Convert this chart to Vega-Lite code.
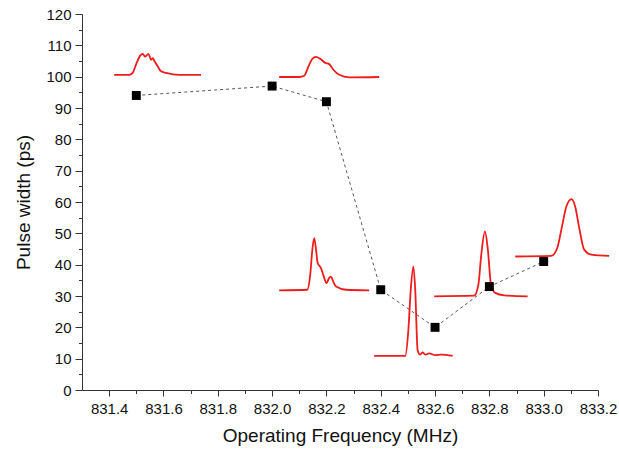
{
  "$schema": "https://vega.github.io/schema/vega-lite/v6.json",
  "width": 516,
  "height": 376,
  "autosize": {"type": "none"},
  "padding": {"left": 82, "top": 14, "right": 21, "bottom": 64},
  "background": "white",
  "config": {
    "view": {"stroke": null},
    "font": "Liberation Sans",
    "axis": {"grid": false, "domainColor": "#333", "tickColor": "#333", "labelColor": "#111", "titleColor": "#111", "labelFont": "Liberation Sans", "titleFont": "Liberation Sans", "labelFontSize": 15, "titleFontSize": 19, "titleFontWeight": "normal", "labelOverlap": false, "labelFlush": false, "labelBound": false}
  },
  "datasets": {
    "points": [
      {"f": 831.5, "w": 94},
      {"f": 832.0, "w": 97},
      {"f": 832.2, "w": 92},
      {"f": 832.4, "w": 32},
      {"f": 832.6, "w": 20},
      {"f": 832.8, "w": 33},
      {"f": 833.0, "w": 41}
    ],
    "traces": [
      {"trace": "A", "i": 1, "f": 831.4185, "w": 100.6},
      {"trace": "A", "i": 2, "f": 831.4738, "w": 100.6},
      {"trace": "A", "i": 3, "f": 831.4864, "w": 101.2},
      {"trace": "A", "i": 4, "f": 831.4999, "w": 104.1},
      {"trace": "A", "i": 5, "f": 831.5145, "w": 106.7},
      {"trace": "A", "i": 6, "f": 831.5232, "w": 107.3},
      {"trace": "A", "i": 7, "f": 831.5329, "w": 106.4},
      {"trace": "A", "i": 8, "f": 831.5445, "w": 107.3},
      {"trace": "A", "i": 9, "f": 831.5542, "w": 105.4},
      {"trace": "A", "i": 10, "f": 831.5610, "w": 105.9},
      {"trace": "A", "i": 11, "f": 831.5658, "w": 105.1},
      {"trace": "A", "i": 12, "f": 831.5774, "w": 103.5},
      {"trace": "A", "i": 13, "f": 831.5910, "w": 101.7},
      {"trace": "A", "i": 14, "f": 831.6094, "w": 101.2},
      {"trace": "A", "i": 15, "f": 831.6579, "w": 100.6},
      {"trace": "A", "i": 16, "f": 831.7383, "w": 100.6},
      {"trace": "B", "i": 1, "f": 832.0260, "w": 99.9},
      {"trace": "B", "i": 2, "f": 832.0997, "w": 99.9},
      {"trace": "B", "i": 3, "f": 832.1181, "w": 100.3},
      {"trace": "B", "i": 4, "f": 832.1336, "w": 103.2},
      {"trace": "B", "i": 5, "f": 832.1482, "w": 105.7},
      {"trace": "B", "i": 6, "f": 832.1617, "w": 106.3},
      {"trace": "B", "i": 7, "f": 832.1772, "w": 105.7},
      {"trace": "B", "i": 8, "f": 832.1956, "w": 104.4},
      {"trace": "B", "i": 9, "f": 832.2102, "w": 104.0},
      {"trace": "B", "i": 10, "f": 832.2257, "w": 102.2},
      {"trace": "B", "i": 11, "f": 832.2470, "w": 100.6},
      {"trace": "B", "i": 12, "f": 832.2838, "w": 99.8},
      {"trace": "B", "i": 13, "f": 832.3943, "w": 99.9},
      {"trace": "C", "i": 1, "f": 832.0260, "w": 31.8},
      {"trace": "C", "i": 2, "f": 832.1297, "w": 32.0},
      {"trace": "C", "i": 3, "f": 832.1404, "w": 36.8},
      {"trace": "C", "i": 4, "f": 832.1482, "w": 44.8},
      {"trace": "C", "i": 5, "f": 832.1549, "w": 48.5},
      {"trace": "C", "i": 6, "f": 832.1627, "w": 44.1},
      {"trace": "C", "i": 7, "f": 832.1675, "w": 40.6},
      {"trace": "C", "i": 8, "f": 832.1801, "w": 38.9},
      {"trace": "C", "i": 9, "f": 832.1918, "w": 35.8},
      {"trace": "C", "i": 10, "f": 832.2005, "w": 34.1},
      {"trace": "C", "i": 11, "f": 832.2102, "w": 35.8},
      {"trace": "C", "i": 12, "f": 832.2169, "w": 36.2},
      {"trace": "C", "i": 13, "f": 832.2257, "w": 34.5},
      {"trace": "C", "i": 14, "f": 832.2353, "w": 33.0},
      {"trace": "C", "i": 15, "f": 832.2722, "w": 32.0},
      {"trace": "C", "i": 16, "f": 832.3574, "w": 31.8},
      {"trace": "D", "i": 1, "f": 832.3758, "w": 10.9},
      {"trace": "D", "i": 2, "f": 832.4902, "w": 10.9},
      {"trace": "D", "i": 3, "f": 832.5018, "w": 19.2},
      {"trace": "D", "i": 4, "f": 832.5105, "w": 32.0},
      {"trace": "D", "i": 5, "f": 832.5202, "w": 39.4},
      {"trace": "D", "i": 6, "f": 832.5270, "w": 32.0},
      {"trace": "D", "i": 7, "f": 832.5357, "w": 12.8},
      {"trace": "D", "i": 8, "f": 832.5454, "w": 11.3},
      {"trace": "D", "i": 9, "f": 832.5541, "w": 12.0},
      {"trace": "D", "i": 10, "f": 832.5638, "w": 11.3},
      {"trace": "D", "i": 11, "f": 832.5784, "w": 11.7},
      {"trace": "D", "i": 12, "f": 832.6006, "w": 11.1},
      {"trace": "D", "i": 13, "f": 832.6229, "w": 11.3},
      {"trace": "D", "i": 14, "f": 832.6646, "w": 10.9},
      {"trace": "E", "i": 1, "f": 832.5968, "w": 29.9},
      {"trace": "E", "i": 2, "f": 832.7440, "w": 30.1},
      {"trace": "E", "i": 3, "f": 832.7595, "w": 33.6},
      {"trace": "E", "i": 4, "f": 832.7702, "w": 43.2},
      {"trace": "E", "i": 5, "f": 832.7838, "w": 50.6},
      {"trace": "E", "i": 6, "f": 832.7944, "w": 44.8},
      {"trace": "E", "i": 7, "f": 832.8061, "w": 33.6},
      {"trace": "E", "i": 8, "f": 832.8216, "w": 31.0},
      {"trace": "E", "i": 9, "f": 832.8545, "w": 30.2},
      {"trace": "E", "i": 10, "f": 832.9407, "w": 29.9},
      {"trace": "F", "i": 1, "f": 832.8952, "w": 42.6},
      {"trace": "F", "i": 2, "f": 833.0279, "w": 42.8},
      {"trace": "F", "i": 3, "f": 833.0502, "w": 45.4},
      {"trace": "F", "i": 4, "f": 833.0686, "w": 52.7},
      {"trace": "F", "i": 5, "f": 833.0832, "w": 58.5},
      {"trace": "F", "i": 6, "f": 833.1026, "w": 60.9},
      {"trace": "F", "i": 7, "f": 833.1161, "w": 58.5},
      {"trace": "F", "i": 8, "f": 833.1307, "w": 51.8},
      {"trace": "F", "i": 9, "f": 833.1491, "w": 44.8},
      {"trace": "F", "i": 10, "f": 833.1752, "w": 43.2},
      {"trace": "F", "i": 11, "f": 833.2411, "w": 42.8}
    ]
  },
  "layer": [
    {
      "data": {"name": "traces"},
      "mark": {"type": "line", "color": "#ee1c1c", "strokeWidth": 1.8, "interpolate": "monotone"},
      "encoding": {
        "x": {"field": "f", "type": "quantitative", "scale": {"domain": [831.3, 833.2], "nice": false, "zero": false},
          "axis": {"values": [831.4, 831.6, 831.8, 832.0, 832.2, 832.4, 832.6, 832.8, 833.0, 833.2], "format": ".1f", "title": "Operating Frequency (MHz)", "tickSize": 6, "labelPadding": 5, "titlePadding": 10, "orient": "bottom"}},
        "y": {"field": "w", "type": "quantitative", "scale": {"domain": [0, 120], "nice": false},
          "axis": {"values": [0, 10, 20, 30, 40, 50, 60, 70, 80, 90, 100, 110, 120], "title": "Pulse width (ps)", "tickSize": 7, "labelPadding": 4, "titlePadding": 12, "orient": "left"}},
        "detail": {"field": "trace"},
        "order": {"field": "i"}
      }
    },
    {
      "data": {"name": "points"},
      "mark": {"type": "line", "color": "#444", "strokeWidth": 0.9, "strokeDash": [3, 3]},
      "encoding": {
        "x": {"field": "f", "type": "quantitative", "axis": {"orient": "bottom", "values": [831.5, 831.7, 831.9, 832.1, 832.3, 832.5, 832.7, 832.9, 833.1], "labels": false, "tickSize": 3.5, "domain": false, "title": null}},
        "y": {"field": "w", "type": "quantitative", "axis": {"orient": "left", "values": [5, 15, 25, 35, 45, 55, 65, 75, 85, 95, 105, 115], "labels": false, "tickSize": 3.5, "domain": false, "title": null}}
      }
    },
    {
      "data": {"name": "points"},
      "mark": {"type": "square", "color": "black", "opacity": 1, "size": 80, "filled": true},
      "encoding": {
        "x": {"field": "f", "type": "quantitative", "axis": null},
        "y": {"field": "w", "type": "quantitative", "axis": null}
      }
    }
  ],
  "resolve": {"axis": {"x": "independent", "y": "independent"}}
}
